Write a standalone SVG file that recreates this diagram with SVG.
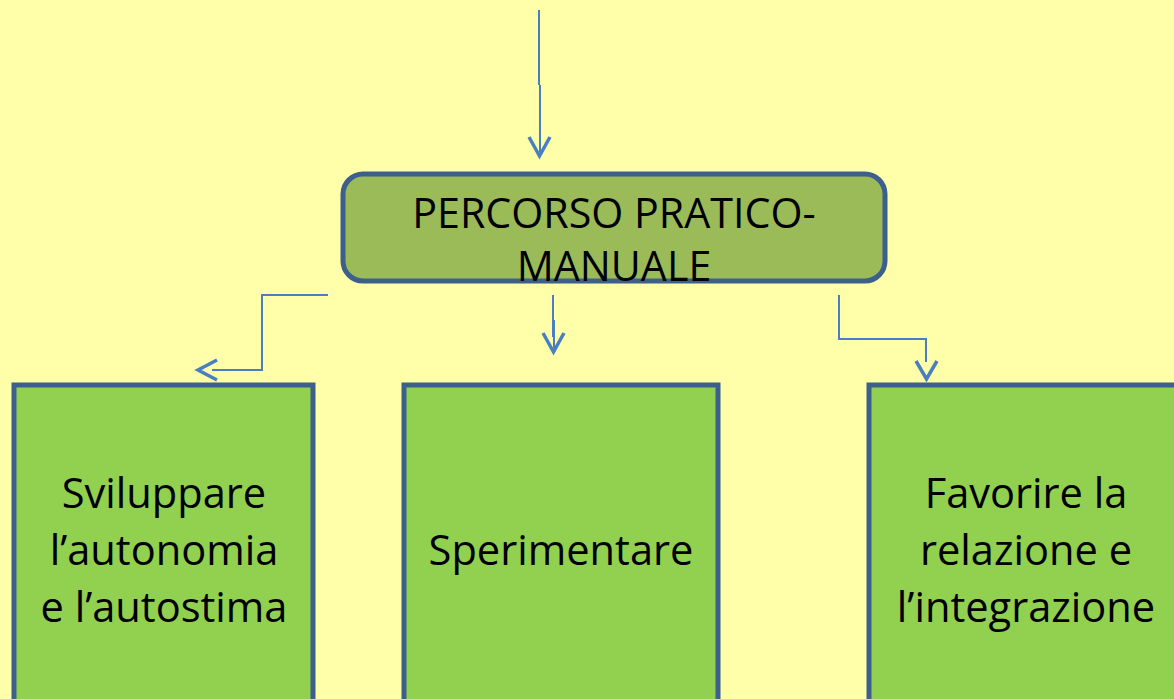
<svg xmlns="http://www.w3.org/2000/svg" width="1174" height="699" viewBox="0 0 1174 699">
<style>
.bg{fill:#FFFFAA}
.conn{fill:none;stroke:#4A7EC1;stroke-width:2}
.head{fill:none;stroke:#4A7EC1;stroke-width:3.5;stroke-linecap:butt;stroke-linejoin:miter}
.box{fill:#92D050;stroke:#3D5F8C;stroke-width:5}
.main{fill:#9BBB59;stroke:#3D5F8C;stroke-width:5}
text{font-family:"Open Sans","Noto Sans",sans-serif;fill:#000;text-anchor:middle}
.t{font-size:41.6px}
.tm{font-size:41.2px}
</style>
<rect class="bg" x="0" y="0" width="1174" height="699"/>
<g id="connectors">
<path class="conn" d="M539,10 V85 M540,85 V152"/>
<path class="head" d="M529,137 L539.5,156 L550,137"/>
<path class="conn" d="M328,295 H262 V370 H212"/>
<path class="head" d="M217,360 L198,370 L217,380"/>
<path class="conn" d="M553,295 V337 M554,320 V348"/>
<path class="head" d="M543,333 L553.5,352 L564,333"/>
<path class="conn" d="M839,295 V339 H926 V362"/>
<path class="head" d="M916,361 L926.5,379 L937,361"/>
</g>
<g id="node-main">
<rect class="main" x="343" y="174" width="542" height="107" rx="20" ry="20"/>
<text class="tm" x="614" y="228">PERCORSO PRATICO-</text>
<text class="tm" x="614" y="281">MANUALE</text>
</g>
<g id="node-autonomia">
<rect class="box" x="14" y="385" width="299" height="330"/>
<text class="t" x="164" y="508">Sviluppare</text>
<text class="t" x="164" y="565">l’autonomia</text>
<text class="t" x="164" y="622">e l’autostima</text>
</g>
<g id="node-sperimentare">
<rect class="box" x="404" y="385" width="314" height="330"/>
<text class="t" x="561" y="565">Sperimentare</text>
</g>
<g id="node-relazione">
<rect class="box" x="869" y="385" width="330" height="330"/>
<text class="t" x="1026" y="508">Favorire la</text>
<text class="t" x="1026" y="565">relazione e</text>
<text class="t" x="1026" y="622">l’integrazione</text>
</g>
</svg>
